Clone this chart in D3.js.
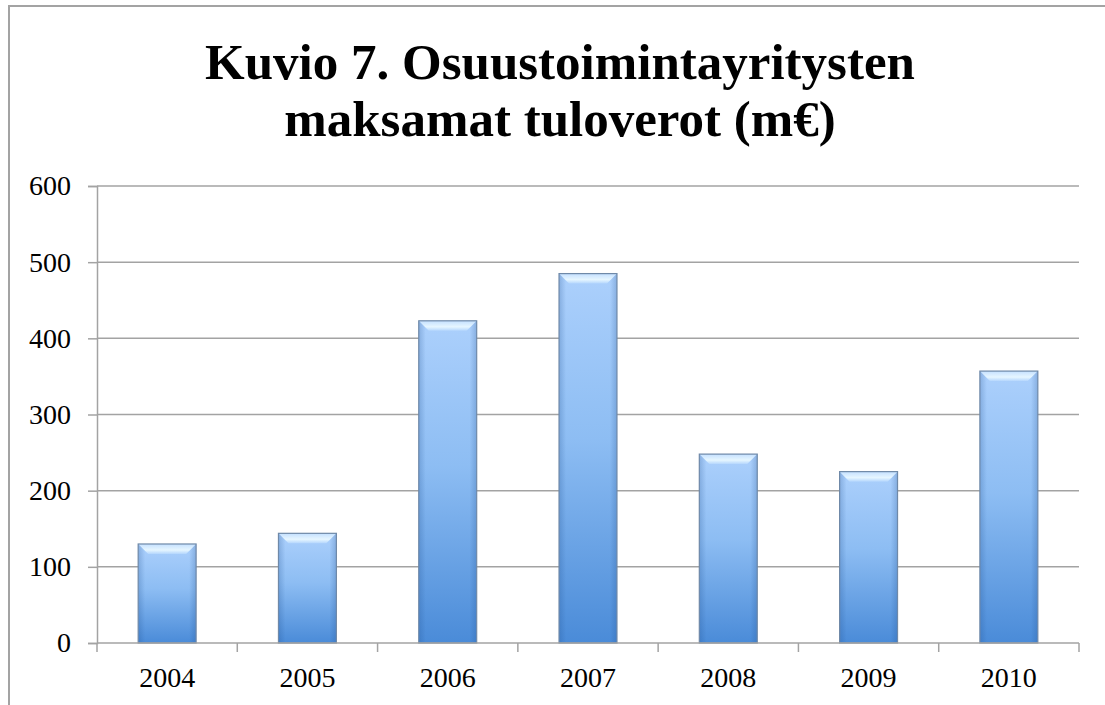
<!DOCTYPE html>
<html>
<head>
<meta charset="utf-8">
<script src="https://cdn.jsdelivr.net/npm/d3@7"></script>
<style>
  body { margin: 0; background: #fff; }
  svg { display: block; }
</style>
</head>
<body>
<div id="chart"></div>
<script>
var years = ["2004", "2005", "2006", "2007", "2008", "2009", "2010"];
var taxes = [130, 144, 423, 485, 248, 225, 357];
var yTicks = [0, 100, 200, 300, 400, 500, 600];
var titleLines = ["Kuvio 7. Osuustoimintayritysten", "maksamat tuloverot (m€)"];

var config = {
  "width": 1105,
  "height": 705,
  "left": 97,
  "right": 1079,
  "top": 186,
  "bottom": 643
}

window.addEventListener("DOMContentLoaded", main);

function main() {
  const svg = d3.select("#chart")
    .append("svg")
    .attr("width", config.width)
    .attr("height", config.height);

  const defs = svg.append("defs");

  // body of the bar: light on top, deeper blue below
  const body = defs.append("linearGradient")
    .attr("id", "barBody")
    .attr("x1", 0).attr("y1", 0).attr("x2", 0).attr("y2", 1);
  body.append("stop").attr("offset", "0%").attr("stop-color", "#acd0fc");
  body.append("stop").attr("offset", "45%").attr("stop-color", "#8dbdf3");
  body.append("stop").attr("offset", "100%").attr("stop-color", "#4a8bd8");

  // darker sides
  const sides = defs.append("linearGradient")
    .attr("id", "barSides")
    .attr("x1", 0).attr("y1", 0).attr("x2", 1).attr("y2", 0);
  sides.append("stop").attr("offset", "0%").attr("stop-color", "#1f4f8f").attr("stop-opacity", 0.25);
  sides.append("stop").attr("offset", "12%").attr("stop-color", "#1f4f8f").attr("stop-opacity", 0);
  sides.append("stop").attr("offset", "88%").attr("stop-color", "#1f4f8f").attr("stop-opacity", 0);
  sides.append("stop").attr("offset", "100%").attr("stop-color", "#1f4f8f").attr("stop-opacity", 0.25);

  // top bevel
  const bevel = defs.append("linearGradient")
    .attr("id", "barBevel")
    .attr("x1", 0).attr("y1", 0).attr("x2", 0).attr("y2", 1);
  bevel.append("stop").attr("offset", "0%").attr("stop-color", "#c4e0ff");
  bevel.append("stop").attr("offset", "60%").attr("stop-color", "#e6f6ff");
  bevel.append("stop").attr("offset", "100%").attr("stop-color", "#b4d6fd");

  const x = d3.scaleBand()
    .domain(years)
    .range([config.left, config.right])
    .paddingInner(0.587)
    .paddingOuter(0.2935);

  const y = d3.scaleLinear()
    .domain([0, 600])
    .range([config.bottom, config.top]);

  // outer chart frame
  svg.append("rect")
    .attr("x", 9)
    .attr("y", 6)
    .attr("width", 1200)
    .attr("height", 800)
    .style("fill", "none")
    .style("stroke", "#a3a3a3")
    .style("stroke-width", "2px");

  // title, one text per line
  svg.append("g")
    .selectAll("text")
    .data(titleLines)
    .enter()
    .append("text")
    .attr("x", 560)
    .attr("y", function(d, i) { return 79 + i * 57; })
    .attr("text-anchor", "middle")
    .style("font-family", "'Liberation Serif', serif")
    .style("font-weight", "bold")
    .style("font-size", "51px")
    .text(function(d) { return d; });

  // gridlines
  svg.append("g")
    .selectAll("line")
    .data(yTicks.filter(function(d) { return d > 0; }))
    .enter()
    .append("line")
    .attr("x1", config.left)
    .attr("x2", config.right)
    .attr("y1", function(d) { return y(d); })
    .attr("y2", function(d) { return y(d); })
    .style("stroke", "#a3a3a3")
    .style("stroke-width", "1.5px");

  // y axis
  const yAxis = svg.append("g")
    .attr("transform", "translate(" + config.left + ",0)")
    .call(d3.axisLeft(y).tickValues(yTicks).tickSize(9).tickPadding(17));
  yAxis.select(".domain").style("stroke", "#a3a3a3").style("stroke-width", "1.5px");
  yAxis.selectAll(".tick line").style("stroke", "#a3a3a3").style("stroke-width", "1.5px");
  yAxis.selectAll("text")
    .style("font-family", "'Liberation Serif', serif")
    .style("font-size", "28px")
    .style("fill", "#000");

  // bars
  const bars = svg.append("g")
    .selectAll("g")
    .data(taxes)
    .enter()
    .append("g");

  bars.append("rect")
    .attr("x", function(d, i) { return x(years[i]); })
    .attr("y", function(d) { return y(d); })
    .attr("width", x.bandwidth())
    .attr("height", function(d) { return y(0) - y(d); })
    .style("fill", "url(#barBody)");

  bars.append("rect")
    .attr("x", function(d, i) { return x(years[i]); })
    .attr("y", function(d) { return y(d); })
    .attr("width", x.bandwidth())
    .attr("height", function(d) { return y(0) - y(d); })
    .style("fill", "url(#barSides)");

  bars.append("polygon")
    .attr("points", function(d, i) {
      var x0 = x(years[i]), x1 = x0 + x.bandwidth(), t = y(d), b = 10;
      return [[x0, t], [x1, t], [x1 - b, t + b], [x0 + b, t + b]].join(" ");
    })
    .style("fill", "url(#barBevel)");

  bars.append("rect")
    .attr("x", function(d, i) { return x(years[i]); })
    .attr("y", function(d) { return y(d); })
    .attr("width", x.bandwidth())
    .attr("height", function(d) { return y(0) - y(d); })
    .style("fill", "none")
    .style("stroke", "#6f89a8")
    .style("stroke-width", "1.2px");

  // x axis with ticks between categories
  const xAxisG = svg.append("g");
  xAxisG.append("line")
    .attr("x1", config.left)
    .attr("x2", config.right)
    .attr("y1", y(0))
    .attr("y2", y(0))
    .style("stroke", "#a3a3a3")
    .style("stroke-width", "1.5px");

  const gap = x.step() - x.bandwidth();
  const bounds = years.map(function(d) { return x(d) - gap / 2; }).concat([config.right]);
  xAxisG.selectAll(".xtick")
    .data(bounds)
    .enter()
    .append("line")
    .attr("x1", function(d) { return d; })
    .attr("x2", function(d) { return d; })
    .attr("y1", y(0))
    .attr("y2", y(0) + 9)
    .style("stroke", "#a3a3a3")
    .style("stroke-width", "1.5px");

  xAxisG.selectAll(".xlabel")
    .data(years)
    .enter()
    .append("text")
    .attr("x", function(d) { return x(d) + x.bandwidth() / 2; })
    .attr("y", 687)
    .attr("text-anchor", "middle")
    .style("font-family", "'Liberation Serif', serif")
    .style("font-size", "28px")
    .text(function(d) { return d; });
}
</script>
</body>
</html>
